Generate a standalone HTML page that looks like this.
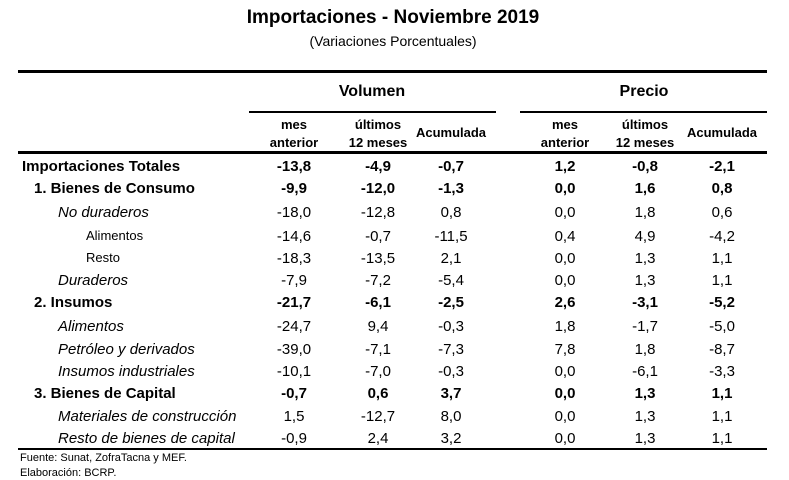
<!DOCTYPE html>
<html><head><meta charset="utf-8"><style>
body{margin:0;background:#fff;width:789px;height:480px;overflow:hidden;position:relative;font-family:"Liberation Sans",Arial,sans-serif;color:#000}
.a{position:absolute;white-space:nowrap}
.r{position:absolute;background:#000}
.c{transform:translateX(-50%);text-align:center}
</style></head><body>
<div class="a c" style="left:393px;top:7px;font-size:19px;font-weight:bold">Importaciones - Noviembre 2019</div>
<div class="a c" style="left:393px;top:33px;font-size:14px">(Variaciones Porcentuales)</div>
<div class="r" style="left:18px;top:70px;width:749px;height:3px"></div>
<div class="a c" style="left:372px;top:83px;font-size:16px;font-weight:bold">Volumen</div>
<div class="a c" style="left:644px;top:83px;font-size:16px;font-weight:bold">Precio</div>
<div class="r" style="left:249px;top:111px;width:247px;height:2px"></div>
<div class="r" style="left:520px;top:111px;width:247px;height:2px"></div>
<div class="r" style="left:18px;top:151px;width:749px;height:3px"></div>
<div class="r" style="left:18px;top:448px;width:749px;height:2px"></div>
<div class="a" style="left:20px;top:452px;font-size:11px">Fuente: Sunat, ZofraTacna y MEF.</div>
<div class="a" style="left:20px;top:467px;font-size:11px">Elaboración: BCRP.</div>
<div id="t"></div>
<script>
const colHeaders=[["mes","anterior"],["últimos","12 meses"],["Acumulada"],["mes","anterior"],["últimos","12 meses"],["Acumulada"]];
const rowLabels=["Importaciones Totales","1. Bienes de Consumo","No duraderos","Alimentos","Resto","Duraderos","2. Insumos","Alimentos","Petróleo y derivados","Insumos industriales","3. Bienes de Capital","Materiales de construcción","Resto de bienes de capital"];
const rowLevels=[0,1,2,3,3,2,1,2,2,2,1,2,2];
const volMes=["-13,8","-9,9","-18,0","-14,6","-18,3","-7,9","-21,7","-24,7","-39,0","-10,1","-0,7","1,5","-0,9"];
const vol12=["-4,9","-12,0","-12,8","-0,7","-13,5","-7,2","-6,1","9,4","-7,1","-7,0","0,6","-12,7","2,4"];
const volAc=["-0,7","-1,3","0,8","-11,5","2,1","-5,4","-2,5","-0,3","-7,3","-0,3","3,7","8,0","3,2"];
const preMes=["1,2","0,0","0,0","0,4","0,0","0,0","2,6","1,8","7,8","0,0","0,0","0,0","0,0"];
const pre12=["-0,8","1,6","1,8","4,9","1,3","1,3","-3,1","-1,7","1,8","-6,1","1,3","1,3","1,3"];
const preAc=["-2,1","0,8","0,6","-4,2","1,1","1,1","-5,2","-5,0","-8,7","-3,3","1,1","1,1","1,1"];
const cols=[volMes,vol12,volAc,preMes,pre12,preAc];
const colX=[294,378,451,565,645,722];
const rowY=[167,189,213,237,259,281,303,327,350,372,394,417,439];
const indent=[22,34,58,86];
const t=document.getElementById('t');
function mk(txt,css){const d=document.createElement('div');d.className='a';d.textContent=txt;d.style.cssText=css;t.appendChild(d);return d;}
colHeaders.forEach((h,i)=>{
  h.forEach((s,j)=>{
    const y=h.length===1?125:117+j*18;
    const d=mk(s,`left:${colX[i]}px;top:${y}px;font-size:13px;font-weight:bold`);
    d.classList.add('c');
    
    
  });
});
rowLabels.forEach((l,r)=>{
  const lv=rowLevels[r];
  const bold=lv<=1, ital=lv===2;
  const fs=lv===3?13:15;
  const d=mk(l,`left:${indent[lv]}px;top:${rowY[r]-9}px;font-size:${fs}px;${bold?'font-weight:bold;':''}${ital?'font-style:italic;':''}`);
  
  
  cols.forEach((c,i)=>{
    const v=mk(c[r],`left:${colX[i]}px;top:${rowY[r]-9}px;font-size:15px;${bold?'font-weight:bold;':''}`);
    v.classList.add('c');
    
    
  });
});
</script>
</body></html>
